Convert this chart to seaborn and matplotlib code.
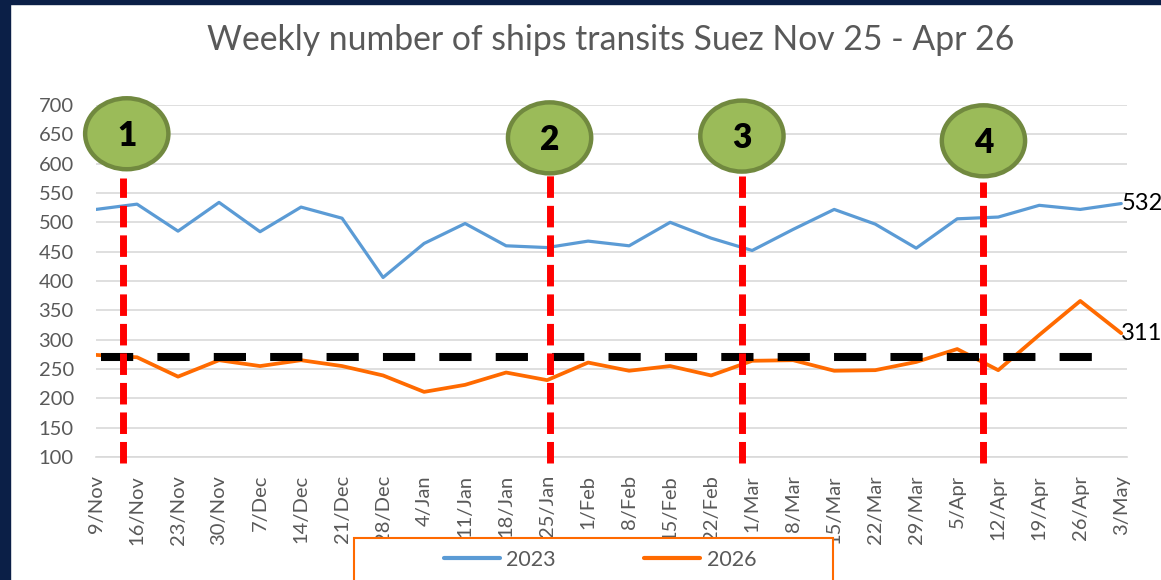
import numpy as np
import pandas as pd
import matplotlib
matplotlib.use("Agg")
import matplotlib.pyplot as plt
import seaborn as sns
from matplotlib.patches import Ellipse, Rectangle
from matplotlib.lines import Line2D

# ---------------- data ----------------
weeks = ["9/Nov", "16/Nov", "23/Nov", "30/Nov", "7/Dec", "14/Dec", "21/Dec", "28/Dec",
         "4/Jan", "11/Jan", "18/Jan", "25/Jan", "1/Feb", "8/Feb", "15/Feb", "22/Feb",
         "1/Mar", "8/Mar", "15/Mar", "22/Mar", "29/Mar", "5/Apr", "12/Apr", "19/Apr",
         "26/Apr", "3/May"]
transits_2023 = [522, 531, 485, 534, 484, 526, 507, 406, 464, 498, 460, 457, 468, 460,
                 500, 473, 452, 488, 522, 497, 456, 506, 509, 529, 522, 532]
transits_2026 = [274, 270, 237, 265, 255, 265, 255, 239, 211, 223, 244, 231, 261, 247,
                 255, 239, 264, 265, 247, 248, 262, 284, 248, 308, 366, 311]
series_names = ["2023", "2026"]
threshold = 270
event_labels = ["1", "2", "3", "4"]
event_x = [0.67, 11.06, 15.75, 21.64]          # positions between weekly categories
event_top = [576, 581, 579, 569]
bubble_y = [651, 644, 647, 639]
title = "Weekly number of ships transits Suez Nov 25 - Apr 26"

# ---------------- style ----------------
sns.set_style("white")
plt.rcParams["font.family"] = ["Lato", "DejaVu Sans"]

W, H = 1161, 580
fig = plt.figure(figsize=(W / 100, H / 100), dpi=100)
fig.patch.set_facecolor("white")

# navy frame strips
navy = "#0B1F47"
fig.add_artist(Rectangle((0, 0), 10 / W, 1, transform=fig.transFigure, color=navy, zorder=0))
fig.add_artist(Rectangle((0, 1 - 4 / H), 1, 4 / H, transform=fig.transFigure, color=navy, zorder=0))

ax = fig.add_axes([96 / W, 1 - 457 / H, (1127 - 96) / W, (457 - 105) / H])

df = pd.DataFrame({
    "idx": np.tile(np.arange(len(weeks)), 2),
    "value": transits_2023 + transits_2026,
    "series": np.repeat(series_names, len(weeks)),
})
palette = {"2023": "#5B9BD5", "2026": "#FF6A00"}
sns.lineplot(data=df, x="idx", y="value", hue="series", palette=palette,
             ax=ax, legend=False, linewidth=2.4, zorder=3)
for ln, lw in zip(ax.get_lines(), [2.3, 2.7]):
    ln.set_linewidth(lw)

ax.set_xlim(0, 25.14)
ax.set_ylim(100, 700)
ax.set_yticks(np.arange(100, 701, 50))
ax.set_xticks(np.arange(len(weeks)))
ax.set_xticklabels(weeks, rotation=90, fontsize=14.5, color="#595959")
ax.tick_params(axis="y", length=0, pad=16, labelsize=14.5, labelcolor="#595959")
ax.tick_params(axis="x", length=5, width=1, color="#BFBFBF", pad=8, direction="out")
ax.grid(axis="y", color="#D9D9D9", linewidth=1.2, zorder=0)
ax.set_axisbelow(True)
for s in ["top", "right", "left"]:
    ax.spines[s].set_visible(False)
ax.spines["bottom"].set_color("#D9D9D9")
ax.spines["bottom"].set_linewidth(1.2)
ax.set_xlabel("")
ax.set_ylabel("")

# threshold dashed line
ax.hlines(threshold, 0.12, 24.78, colors="black", linewidth=5.8,
          linestyles=[(0, (4, 3))], zorder=4)

# event markers
for lab, ex, top, by in zip(event_labels, event_x, event_top, bubble_y):
    ax.vlines(ex, 90, top, colors="#FF0000", linewidth=5.0,
              linestyles=[(0, (3.1, 1.15))], zorder=5, clip_on=False)
    cx = ex + (0.08 if lab == "1" else 0)
    e = Ellipse((cx, by), width=2.03, height=121,
                facecolor="#9BBB59", edgecolor="#71893F", linewidth=3.2,
                zorder=6, clip_on=False)
    ax.add_patch(e)
    ax.text(cx, by - 4, lab, ha="center", va="center",
            fontsize=24, fontweight="heavy", color="black", zorder=7, clip_on=False)

# end labels
last = len(weeks) - 1
for vals in (transits_2023, transits_2026):
    ax.annotate(str(vals[last]), (last, vals[last]), xytext=(0, 0),
                textcoords="offset points", ha="left", va="center",
                fontsize=17, color="black", annotation_clip=False, zorder=8)

# title
fig.text(611 / W, 1 - 40 / H, title, ha="center", va="center",
         fontsize=24.3, color="#595959")

# legend box
fig.add_artist(Rectangle((354 / W, -0.02), (833 - 354) / W, (580 - 538) / H + 0.02,
                         transform=fig.transFigure, facecolor="white",
                         edgecolor="#FF6A00", linewidth=1.5, zorder=1))
handles = [Line2D([0], [0], color=palette[n], linewidth=3) for n in series_names]
leg = fig.legend(handles, series_names, loc="center", bbox_to_anchor=(600 / W, 1 - 560 / H),
                 ncol=2, frameon=False, fontsize=15.5, handlelength=2.6,
                 columnspacing=4.1, handletextpad=0.3, labelcolor="#595959")
leg.set_zorder(2)

fig.savefig("out.png", dpi=100)
